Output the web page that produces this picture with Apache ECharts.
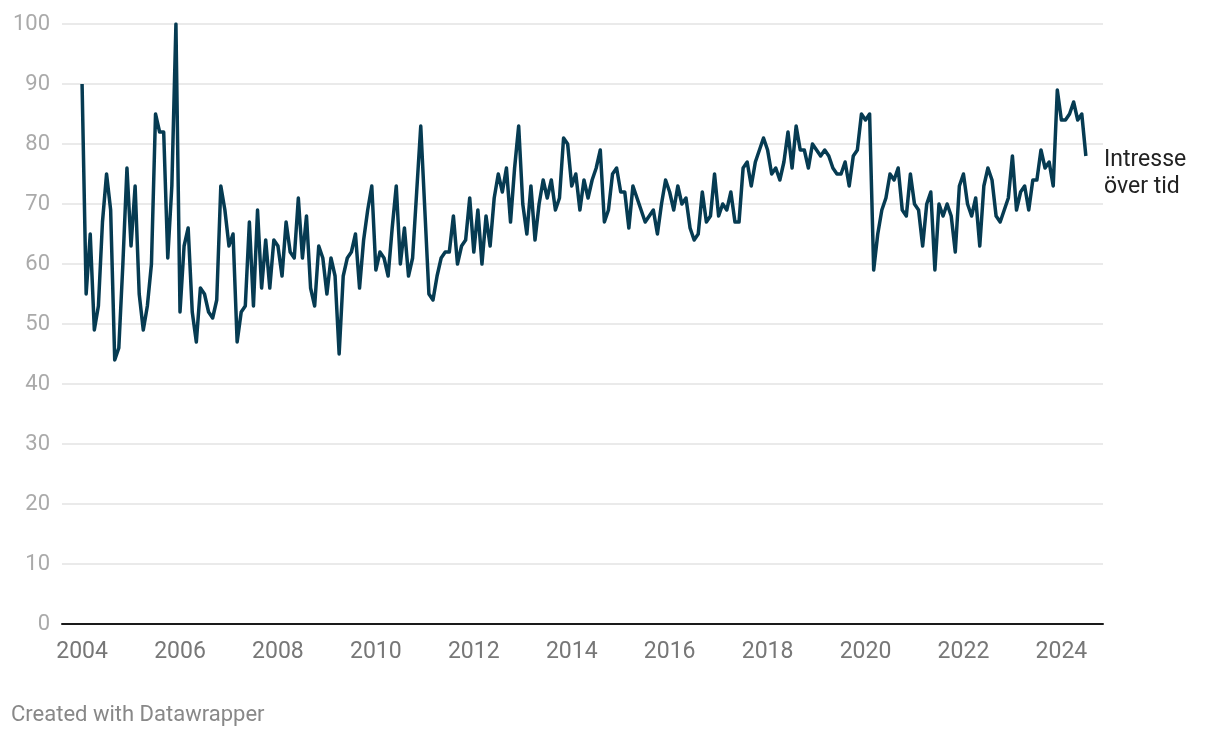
<!DOCTYPE html>
<html>
<head>
<meta charset="utf-8">
<script src="https://cdn.jsdelivr.net/npm/echarts@6/dist/echarts.min.js"></script>
<style>
  html, body { margin: 0; padding: 0; background: #fff; }
  #chart { width: 1220px; height: 740px; }
</style>
</head>
<body>
<div id="chart"></div>
<script>
// Monthly values, Jan 2004 .. Jul 2024
const startYear = 2004;
const values = [
  90, 55, 65, 49, 53, 67, 75, 69, 44, 46, 60, 76,
  63, 73, 55, 49, 53, 60, 85, 82, 82, 61, 73, 100,
  52, 63, 66, 52, 47, 56, 55, 52, 51, 54, 73, 69,
  63, 65, 47, 52, 53, 67, 53, 69, 56, 64, 56, 64,
  63, 58, 67, 62, 61, 71, 61, 68, 56, 53, 63, 61,
  55, 61, 58, 45, 58, 61, 62, 65, 56, 64, 69, 73,
  59, 62, 61, 58, 66, 73, 60, 66, 58, 61, 72, 83,
  69, 55, 54, 58, 61, 62, 62, 68, 60, 63, 64, 71,
  62, 69, 60, 68, 63, 71, 75, 72, 76, 67, 76, 83,
  70, 65, 73, 64, 70, 74, 71, 74, 69, 71, 81, 80,
  73, 75, 69, 74, 71, 74, 76, 79, 67, 69, 75, 76,
  72, 72, 66, 73, 71, 69, 67, 68, 69, 65, 70, 74,
  72, 69, 73, 70, 71, 66, 64, 65, 72, 67, 68, 75,
  68, 70, 69, 72, 67, 67, 76, 77, 73, 77, 79, 81,
  79, 75, 76, 74, 77, 82, 76, 83, 79, 79, 76, 80,
  79, 78, 79, 78, 76, 75, 75, 77, 73, 78, 79, 85,
  84, 85, 59, 65, 69, 71, 75, 74, 76, 69, 68, 75,
  70, 69, 63, 70, 72, 59, 70, 68, 70, 68, 62, 73,
  75, 70, 68, 71, 63, 73, 76, 74, 68, 67, 69, 71,
  78, 69, 72, 73, 69, 74, 74, 79, 76, 77, 73, 89,
  84, 84, 85, 87, 84, 85, 78
];
const yearTicks = [2004, 2006, 2008, 2010, 2012, 2014, 2016, 2018, 2020, 2022, 2024];
const seriesName = 'Intresse\növer tid';
const footer = 'Created with Datawrapper';

const seriesData = values.map((v, i) => [startYear + i / 12, v]);

const chart = echarts.init(document.getElementById('chart'), null, { renderer: 'canvas' });
chart.setOption({
  animation: false,
  backgroundColor: '#ffffff',
  textStyle: { fontFamily: 'Roboto' },
  grid: { left: 62, right: 117, top: 24, bottom: 116, containLabel: false },
  xAxis: {
    type: 'value',
    min: 2003.59,
    max: 2024.85,
    axisLine: { show: true, onZero: true, lineStyle: { color: '#1a1a1a', width: 2 } },
    axisTick: { show: false },
    splitLine: { show: false },
    axisLabel: {
      customValues: yearTicks,
      color: '#777777',
      fontSize: 23,
      fontFamily: 'Roboto',
      margin: 17,
      formatter: v => String(Math.round(v))
    }
  },
  yAxis: {
    type: 'value',
    min: 0,
    max: 100,
    interval: 10,
    axisLine: { show: false },
    axisTick: { show: false },
    splitLine: { show: true, lineStyle: { color: '#e3e3e3', width: 1.5 } },
    axisLabel: { color: '#aaaaaa', fontSize: 22, fontFamily: 'Roboto', margin: 12 }
  },
  series: [{
    type: 'line',
    name: seriesName,
    data: seriesData,
    showSymbol: false,
    symbol: 'none',
    lineStyle: { color: '#063b52', width: 3.5, join: 'round' },
    z: 5
  }],
  graphic: [
    {
      type: 'text',
      left: 1104,
      top: 147,
      style: {
        text: seriesName,
        fill: '#222222',
        font: '23px Roboto',
        lineHeight: 27
      }
    },
    {
      type: 'text',
      left: 11,
      top: 704,
      style: {
        text: footer,
        fill: '#888888',
        font: '22px Roboto'
      }
    }
  ]
});
</script>
</body>
</html>
